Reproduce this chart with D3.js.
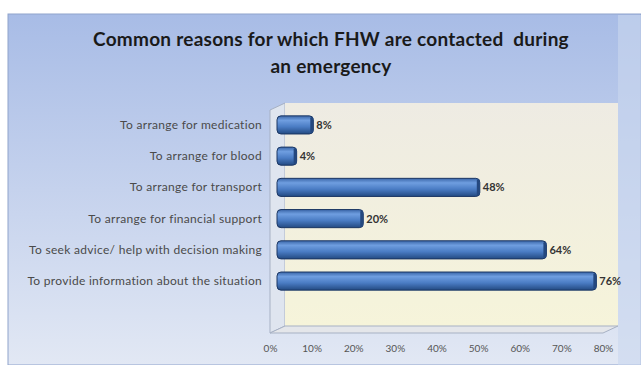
<!DOCTYPE html>
<html>
<head>
<meta charset="utf-8">
<script src="https://cdn.jsdelivr.net/npm/d3@7"></script>
<style>
  body { margin: 0; background: #fff; }
  svg { display: block; font-family: Lato, "Open Sans", sans-serif; }
  text { white-space: pre; }
</style>
</head>
<body>
<svg width="641" height="365"></svg>
<script>
// categories top to bottom, as in the slide
var categories = [
  "To arrange for medication",
  "To arrange for blood",
  "To arrange for transport",
  "To arrange for financial support",
  "To seek advice/ help with decision making",
  "To provide information about the situation"
];
var values = [0.08, 0.04, 0.48, 0.20, 0.64, 0.76];
var tickValues = [0, 0.1, 0.2, 0.3, 0.4, 0.5, 0.6, 0.7, 0.8];
var titleLines = ["Common reasons for which FHW are contacted  during", "an emergency"];

var svg = d3.select("svg");
var defs = svg.append("defs");

var bg = defs.append("linearGradient").attr("id", "bg").attr("x1", 0).attr("y1", 0).attr("x2", 0).attr("y2", 1);
bg.append("stop").attr("offset", "0%").attr("stop-color", "#a8bce6");
bg.append("stop").attr("offset", "100%").attr("stop-color", "#e2e8f4");

var wall = defs.append("linearGradient").attr("id", "wall").attr("x1", 0).attr("y1", 0).attr("x2", 0).attr("y2", 1);
wall.append("stop").attr("offset", "0%").attr("stop-color", "#eeebe3");
wall.append("stop").attr("offset", "100%").attr("stop-color", "#f6f4da");

var barG = defs.append("linearGradient").attr("id", "bar").attr("x1", 0).attr("y1", 0).attr("x2", 0).attr("y2", 1);
barG.append("stop").attr("offset", "0%").attr("stop-color", "#3a66a8");
barG.append("stop").attr("offset", "25%").attr("stop-color", "#6f9ee0");
barG.append("stop").attr("offset", "60%").attr("stop-color", "#4a7cc4");
barG.append("stop").attr("offset", "100%").attr("stop-color", "#234a82");

// slide panel
svg.append("rect").attr("x", 8).attr("y", 14).attr("width", 633).attr("height", 351)
  .attr("fill", "url(#bg)").attr("stroke", "#8fa3cc").attr("stroke-width", 1);
svg.append("rect").attr("x", 618).attr("y", 15).attr("width", 23).attr("height", 350)
  .attr("fill", "#c9d7ef").attr("opacity", 0.6);

// title
svg.append("g").selectAll("text").data(titleLines).enter().append("text")
  .attr("x", 331).attr("y", function (d, i) { return 46 + i * 27; })
  .attr("text-anchor", "middle").attr("font-size", 19).attr("font-weight", "bold")
  .attr("letter-spacing", 0.25)
  .attr("fill", "#1a1a1a").text(function (d) { return d; });

var x = d3.scaleLinear().domain([0, 0.8]).range([270, 603]);
var y = d3.scaleBand().domain(categories).range([109, 297]).paddingInner(0.42).paddingOuter(0.22);

var depthX = 15, depthY = -7;
var floorY = 333, topY = 110;

// left wall
svg.append("path")
  .attr("d", "M" + x(0) + "," + topY + "L" + (x(0) + depthX) + "," + (topY + depthY) +
    "L" + (x(0) + depthX) + "," + (floorY + depthY) + "L" + x(0) + "," + floorY + "Z")
  .attr("fill", "#dfe5ef").attr("stroke", "#a7b1c4").attr("stroke-width", 1);
// back wall
svg.append("rect")
  .attr("x", x(0) + depthX).attr("y", topY + depthY)
  .attr("width", x(0.8) - x(0)).attr("height", floorY - topY)
  .attr("fill", "url(#wall)");
// floor
svg.append("path")
  .attr("d", "M" + x(0) + "," + floorY + "L" + (x(0) + depthX) + "," + (floorY + depthY) +
    "L" + (x(0.8) + depthX) + "," + (floorY + depthY) + "L" + x(0.8) + "," + floorY + "Z")
  .attr("fill", "#e4e6ea").attr("stroke", "#a7b1c4").attr("stroke-width", 1);

// category labels
svg.append("g").selectAll("text").data(categories).enter().append("text")
  .attr("x", 262).attr("y", function (d) { return y(d) + y.bandwidth() / 2 + 4; })
  .attr("text-anchor", "end").attr("font-size", 12).attr("letter-spacing", 0.3)
  .attr("fill", "#4a4a4a")
  .text(function (d) { return d; });

// bars
var off = 7;
var bars = svg.append("g").selectAll("g").data(values).enter().append("g");
bars.append("rect")
  .attr("x", x(0) + off)
  .attr("y", function (d, i) { return y(categories[i]); })
  .attr("width", function (d) { return x(d) - x(0) + 3; })
  .attr("height", y.bandwidth())
  .attr("rx", 4)
  .attr("fill", "url(#bar)").attr("stroke", "#1c3763").attr("stroke-width", 1);
bars.append("rect")
  .attr("x", function (d) { return x(d) + off; })
  .attr("y", function (d, i) { return y(categories[i]) + 1; })
  .attr("width", 3)
  .attr("height", y.bandwidth() - 2)
  .attr("rx", 1.5)
  .attr("fill", "#24487f");
bars.append("text")
  .attr("x", function (d) { return x(d) + off + 6; })
  .attr("y", function (d, i) { return y(categories[i]) + y.bandwidth() / 2 + 4; })
  .attr("font-size", 11).attr("font-weight", "bold").attr("fill", "#333")
  .text(function (d) { return d3.format(".0%")(d); });

// x axis
var ax = svg.append("g").attr("transform", "translate(0," + (floorY + 7) + ")")
  .call(d3.axisBottom(x).tickValues(tickValues).tickFormat(d3.format(".0%")).tickSize(0));
ax.select(".domain").remove();
ax.selectAll("text").attr("font-family", "Lato, sans-serif").attr("font-size", 10)
  .attr("fill", "#555").attr("dy", "0.9em");
</script>
</body>
</html>
